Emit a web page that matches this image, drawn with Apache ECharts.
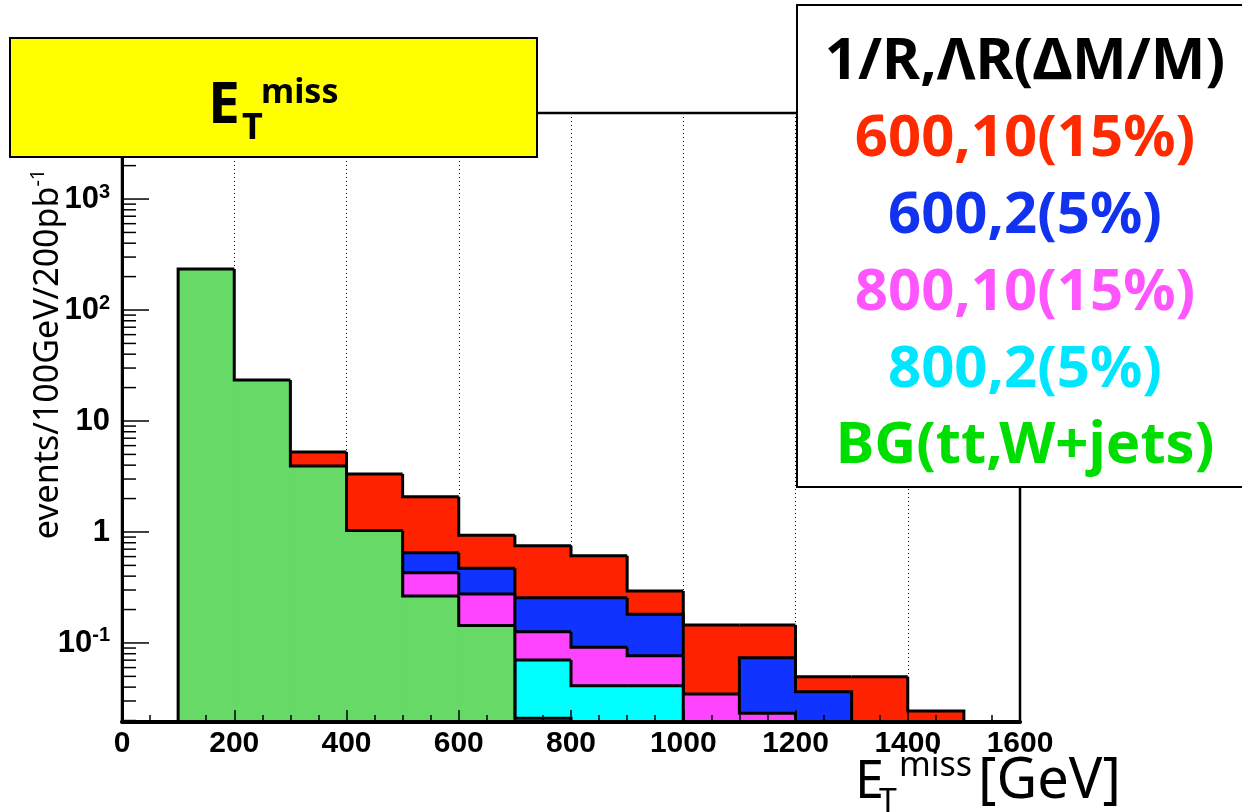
<!DOCTYPE html>
<html>
<head>
<meta charset="utf-8">
<title>E_T miss distribution</title>
<script src="https://cdn.jsdelivr.net/npm/echarts@6/dist/echarts.min.js"></script>
<style>
  html, body { margin: 0; padding: 0; background: #ffffff; }
  #chart { width: 1242px; height: 812px; }
</style>
</head>
<body>
<div id="chart"></div>
<script>
// ---- data: events per 100 GeV bin for 200 pb^-1 (null = empty / not drawn) ----
const binLow = [100, 200, 300, 400, 500, 600, 700, 800, 900, 1000, 1100, 1200, 1300, 1400, 1500];
const binWidth = 100;

const sig600_10 = [null, null, 5.26, 3.33, 2.08, 0.934, 0.753, 0.611, 0.294, 0.145, 0.145, 0.0497, 0.0497, 0.0244, null];
const sig600_2  = [null, null, null, null, 0.651, 0.471, 0.256, 0.256, 0.181, null, 0.0737, 0.0364, null, null, null];
const sig800_10 = [null, null, null, null, 0.43, 0.276, 0.126, 0.0915, 0.0768, 0.0347, 0.0233, null, null, null, null];
const sig800_2  = [null, null, null, null, null, null, 0.0703, 0.0412, 0.0412, null, null, null, null, null, null];
const bgTtW     = [234, 23.4, 3.93, 1.03, 0.265, 0.144, 0.021, null, null, null, null, null, null, null, null];

const legendTitle = '1/R,ΛR(ΔM/M)';
const seriesNames = ['600,10(15%)', '600,2(5%)', '800,10(15%)', '800,2(5%)', 'BG(tt,W+jets)'];
const seriesValues = [sig600_10, sig600_2, sig800_10, sig800_2, bgTtW];
const fillColors = ['#ff2200', '#1133ff', '#ff44ff', '#00ffff', '#66d966'];
const textColors = ['#ff2a00', '#1133f0', '#ff55ff', '#00e6ff', '#00dd00'];

// axis ranges
const X_MIN = 0, X_MAX = 1600, X_STEP = 200;
const Y_MIN = 0.0194, Y_MAX = 5960;
const yDecades = [0.01, 0.1, 1, 10, 100, 1000];   // decade starts for minor ticks
const yMinorMultipliers = [2, 3, 4, 5, 6, 7, 8, 9];

// ---- helpers ----
const FONT = '"Noto Sans", "Open Sans", sans-serif';
const TICK_FONT = '"Liberation Sans Narrow", "Liberation Sans", Arial, sans-serif';

// y position for verticalAlign 'middle' given a desired alphabetic baseline
function mid(baseline, size) { return baseline - 0.285 * size; }

// step-outline histogram: each bin is a filled box; the outline follows the
// bin tops and the steps between neighbouring bins
function histRenderer(values, fill) {
  return function (params, api) {
    const i = api.value(3);
    const lo = api.value(0), hi = api.value(1), v = api.value(2);
    const topL = api.coord([lo, v]);
    const topR = api.coord([hi, v]);
    const baseL = api.coord([lo, Y_MIN]);
    const baseR = api.coord([hi, Y_MIN]);
    const prev = i > 0 ? values[i - 1] : null;
    const next = i < values.length - 1 ? values[i + 1] : null;
    const prevY = api.coord([lo, prev != null ? prev : Y_MIN])[1];
    const pts = [[topL[0], prevY], topL, topR];
    if (next == null) pts.push(baseR);
    // overlap the fill slightly into the next bin so no seam shows between boxes
    const overlap = next != null ? 1 : 0;
    return {
      type: 'group',
      children: [
        {
          type: 'rect',
          shape: { x: topL[0], y: topL[1], width: topR[0] - topL[0] + overlap, height: baseL[1] - topL[1] },
          style: { fill: fill },
          z2: 0
        },
        {
          type: 'polyline',
          shape: { points: pts },
          style: { stroke: '#000', lineWidth: 3, fill: null, lineJoin: 'miter' },
          z2: 1
        }
      ]
    };
  };
}

function histData(values) {
  const out = [];
  binLow.forEach(function (lo, i) {
    if (values[i] != null) out.push([lo, lo + binWidth, values[i], i]);
  });
  return out;
}

// y ticks (major at decades, minor at 2..9 x decade)
const yTickData = [];
yDecades.forEach(function (d) {
  if (d >= Y_MIN && d <= Y_MAX) yTickData.push([0, d, 1]);
  yMinorMultipliers.forEach(function (m) {
    const t = +(m * d).toPrecision(3);
    if (t >= Y_MIN && t <= Y_MAX) yTickData.push([0, t, 0]);
  });
});

const histSeries = seriesValues.map(function (vals, k) {
  return {
    type: 'custom',
    name: seriesNames[k],
    xAxisIndex: 1,
    yAxisIndex: 0,
    z: 3 + k,
    clip: false,
    dimensions: ['lo', 'hi', 'value', 'index'],
    encode: { x: [0, 1], y: 2 },
    renderItem: histRenderer(vals, fillColors[k]),
    data: histData(vals),
    silent: true
  };
});

const tickSeries = {
  type: 'custom',
  xAxisIndex: 1,
  yAxisIndex: 0,
  z: 2,
  clip: false,
  encode: { x: 0, y: 1 },
  renderItem: function (params, api) {
    const p = api.coord([X_MIN, api.value(1)]);
    const len = api.value(2) ? 27 : 14;
    return {
      type: 'line',
      shape: { x1: p[0], y1: p[1], x2: p[0] + len, y2: p[1] },
      style: { stroke: '#000', lineWidth: 1.5 }
    };
  },
  data: yTickData,
  silent: true
};

// ---- chart ----
const chart = echarts.init(document.getElementById('chart'), null, { renderer: 'canvas' });

const legendLineY = [62, 139, 216, 293, 370, 446];
const legendCX = 1025;
const LEG_SIZE = 58;

const graphics = [
  // title box
  {
    type: 'rect', z: 100,
    shape: { x: 10, y: 38, width: 527, height: 119 },
    style: { fill: '#ffff00', stroke: '#000', lineWidth: 2 }
  },
  { type: 'text', z: 101, x: 208, y: mid(123, 57),
    style: { text: 'E', font: 'bold 57px ' + FONT, fill: '#000', verticalAlign: 'middle' } },
  { type: 'text', z: 101, x: 242, y: mid(139, 36),
    style: { text: 'T', font: 'bold 36px ' + FONT, fill: '#000', verticalAlign: 'middle' } },
  { type: 'text', z: 101, x: 261, y: mid(103, 34),
    style: { text: 'miss', font: 'bold 34px ' + FONT, fill: '#000', verticalAlign: 'middle' } },
  // legend box
  {
    type: 'rect', z: 100,
    shape: { x: 797, y: 5, width: 470, height: 482 },
    style: { fill: '#ffffff', stroke: '#000', lineWidth: 2 }
  },
  { type: 'text', z: 101, x: legendCX, y: legendLineY[0],
    style: { text: legendTitle, font: 'bold ' + LEG_SIZE + 'px ' + FONT, fill: '#000', align: 'center', verticalAlign: 'middle' } },
  // y axis title
  { type: 'text', z: 101, x: 48, y: 354, rotation: Math.PI / 2,
    style: {
      text: 'events/100GeV/200pb{sup|-1}',
      font: '34px ' + FONT, fill: '#000', align: 'center', verticalAlign: 'middle',
      rich: { sup: { fontSize: 20, fontFamily: FONT, verticalAlign: 'top', lineHeight: 40 } }
    } },
  // x axis title
  { type: 'text', z: 101, x: 855, y: mid(798, 52),
    style: { text: 'E', font: '52px ' + FONT, fill: '#000', verticalAlign: 'middle' } },
  { type: 'text', z: 101, x: 879, y: mid(812, 32),
    style: { text: 'T', font: '32px ' + FONT, fill: '#000', verticalAlign: 'middle' } },
  { type: 'text', z: 101, x: 899, y: mid(776, 34),
    style: { text: 'miss', font: '34px ' + FONT, fill: '#000', verticalAlign: 'middle' } },
  { type: 'text', z: 101, x: 978, y: mid(798, 56),
    style: { text: '[GeV]', font: '56px ' + FONT, fill: '#000', verticalAlign: 'middle' } }
];
seriesNames.forEach(function (name, k) {
  graphics.push({
    type: 'text', z: 101, x: legendCX, y: legendLineY[k + 1],
    style: { text: name, font: 'bold ' + LEG_SIZE + 'px ' + FONT, fill: textColors[k], align: 'center', verticalAlign: 'middle' }
  });
});

chart.setOption({
  animation: false,
  backgroundColor: '#ffffff',
  grid: {
    left: 122, right: 222, top: 113, bottom: 90,
    show: true, borderColor: '#000', borderWidth: 2.5, backgroundColor: 'transparent',
    containLabel: false, outerBoundsMode: 'none'
  },
  xAxis: [
    { // dotted vertical grid, drawn beneath the histograms
      type: 'value', position: 'top', min: X_MIN, max: X_MAX, interval: X_STEP,
      axisLine: { show: false }, axisTick: { show: false }, axisLabel: { show: false },
      splitLine: { show: true, lineStyle: { color: '#000', width: 1, type: [1, 3] } },
      z: 0
    },
    { // visible axis, drawn above the histograms
      type: 'value', position: 'bottom', min: X_MIN, max: X_MAX, interval: X_STEP,
      axisLine: { show: true, lineStyle: { color: '#000', width: 4 } },
      axisTick: { show: true, inside: true, length: 12, lineStyle: { color: '#000', width: 1.5 } },
      minorTick: { show: true, splitNumber: 4, length: 7, lineStyle: { color: '#000', width: 1.5 } },
      axisLabel: {
        show: true, color: '#000', fontFamily: TICK_FONT, fontWeight: 'bold', fontSize: 30, margin: 7,
        formatter: function (v) { return String(v); }
      },
      splitLine: { show: false },
      z: 20
    }
  ],
  yAxis: [{
    type: 'log', logBase: 10, min: Y_MIN, max: Y_MAX,
    axisLine: { show: true, lineStyle: { color: '#000', width: 3 } },
    axisTick: { show: false },
    splitLine: { show: false },
    axisLabel: {
      show: true, color: '#000', fontFamily: TICK_FONT, fontWeight: 'bold', fontSize: 31, margin: 12,
      showMinLabel: false, showMaxLabel: false,
      formatter: function (v) {
        const l = Math.log10(v);
        const e = Math.round(l);
        if (Math.abs(l - e) > 1e-6) return '';
        if (e === 0) return '1';
        if (e === 1) return '10';
        return '10{sup|' + e + '}';
      },
      rich: {
        sup: { fontFamily: TICK_FONT, fontWeight: 'bold', fontSize: 20, verticalAlign: 'top', color: '#000', padding: [0, 0, 14, 0] }
      }
    },
    z: 20
  }],
  series: [tickSeries].concat(histSeries),
  graphic: graphics
});
</script>
</body>
</html>
